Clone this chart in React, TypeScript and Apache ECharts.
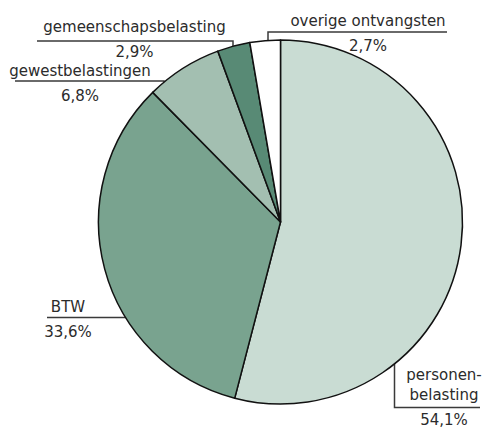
import React, { useEffect, useRef } from "react";
import * as echarts from "echarts";

const categories: string[] = [
  "personen-\nbelasting",
  "BTW",
  "gewestbelastingen",
  "gemeenschapsbelasting",
  "overige ontvangsten",
];
const shares: number[] = [54.1, 33.6, 6.8, 2.9, 2.7];
const sliceColors: string[] = ["#c9dcd3", "#79a38f", "#a3bfb1", "#588a75", "#ffffff"];

// label placement (center x, top y) and leader lines per slice
const labelPos: [number, number][] = [
  [444, 365],
  [68, 296.8],
  [80, 60.5],
  [134.5, 17.1],
  [368, 10.8],
];
const leaderLines: [number, number][][] = [
  [[394.5, 348], [394.5, 407.5], [480, 407.5]],
  [[131, 306.5], [131, 317.5], [47, 317.5]],
  [[164, 93], [164, 81], [15, 81]],
  [[233, 53], [233, 41], [37, 41]],
  [[268, 52], [268, 32], [447, 32]],
];

export default function App() {
  const ref = useRef<HTMLDivElement>(null);
  useEffect(() => {
    document.body.style.margin = "0";
    const chart = echarts.init(ref.current!, null, { renderer: "svg" });
    chart.setOption({
      animation: false,
      series: [
        {
          type: "pie",
          silent: true,
          center: [280.5, 222],
          radius: 182,
          startAngle: 90,
          clockwise: true,
          avoidLabelOverlap: false,
          data: categories.map((c, i) => ({
            name: c,
            value: shares[i],
            itemStyle: { color: sliceColors[i] },
          })),
          itemStyle: { borderColor: "#111", borderWidth: 1.5 },
          emphasis: { disabled: true },
          label: {
            show: true,
            position: "outside",
            formatter: (p: any) =>
              `{n|${p.name}}\n{p|${shares[p.dataIndex].toFixed(1).replace(".", ",")}%}`,
            color: "#2b2b2b",
            fontFamily: "DejaVu Sans",
            fontSize: 15,
            rich: {
              n: { fontFamily: "DejaVu Sans", fontSize: 15, lineHeight: 20, color: "#2b2b2b" },
              p: { fontFamily: "DejaVu Sans", fontSize: 15, lineHeight: 30, color: "#2b2b2b" },
            },
          },
          labelLine: {
            show: true,
            lineStyle: { color: "#3a3a3a", width: 1.5 },
          },
          labelLayout: (params: any) => {
            const i = params.dataIndex;
            return {
              x: labelPos[i][0],
              y: labelPos[i][1],
              align: "center",
              verticalAlign: "top",
              labelLinePoints: leaderLines[i],
            };
          },
        },
      ],
    });
    return () => chart.dispose();
  }, []);
  return <div ref={ref} style={{ width: 483, height: 429 }} />;
}
